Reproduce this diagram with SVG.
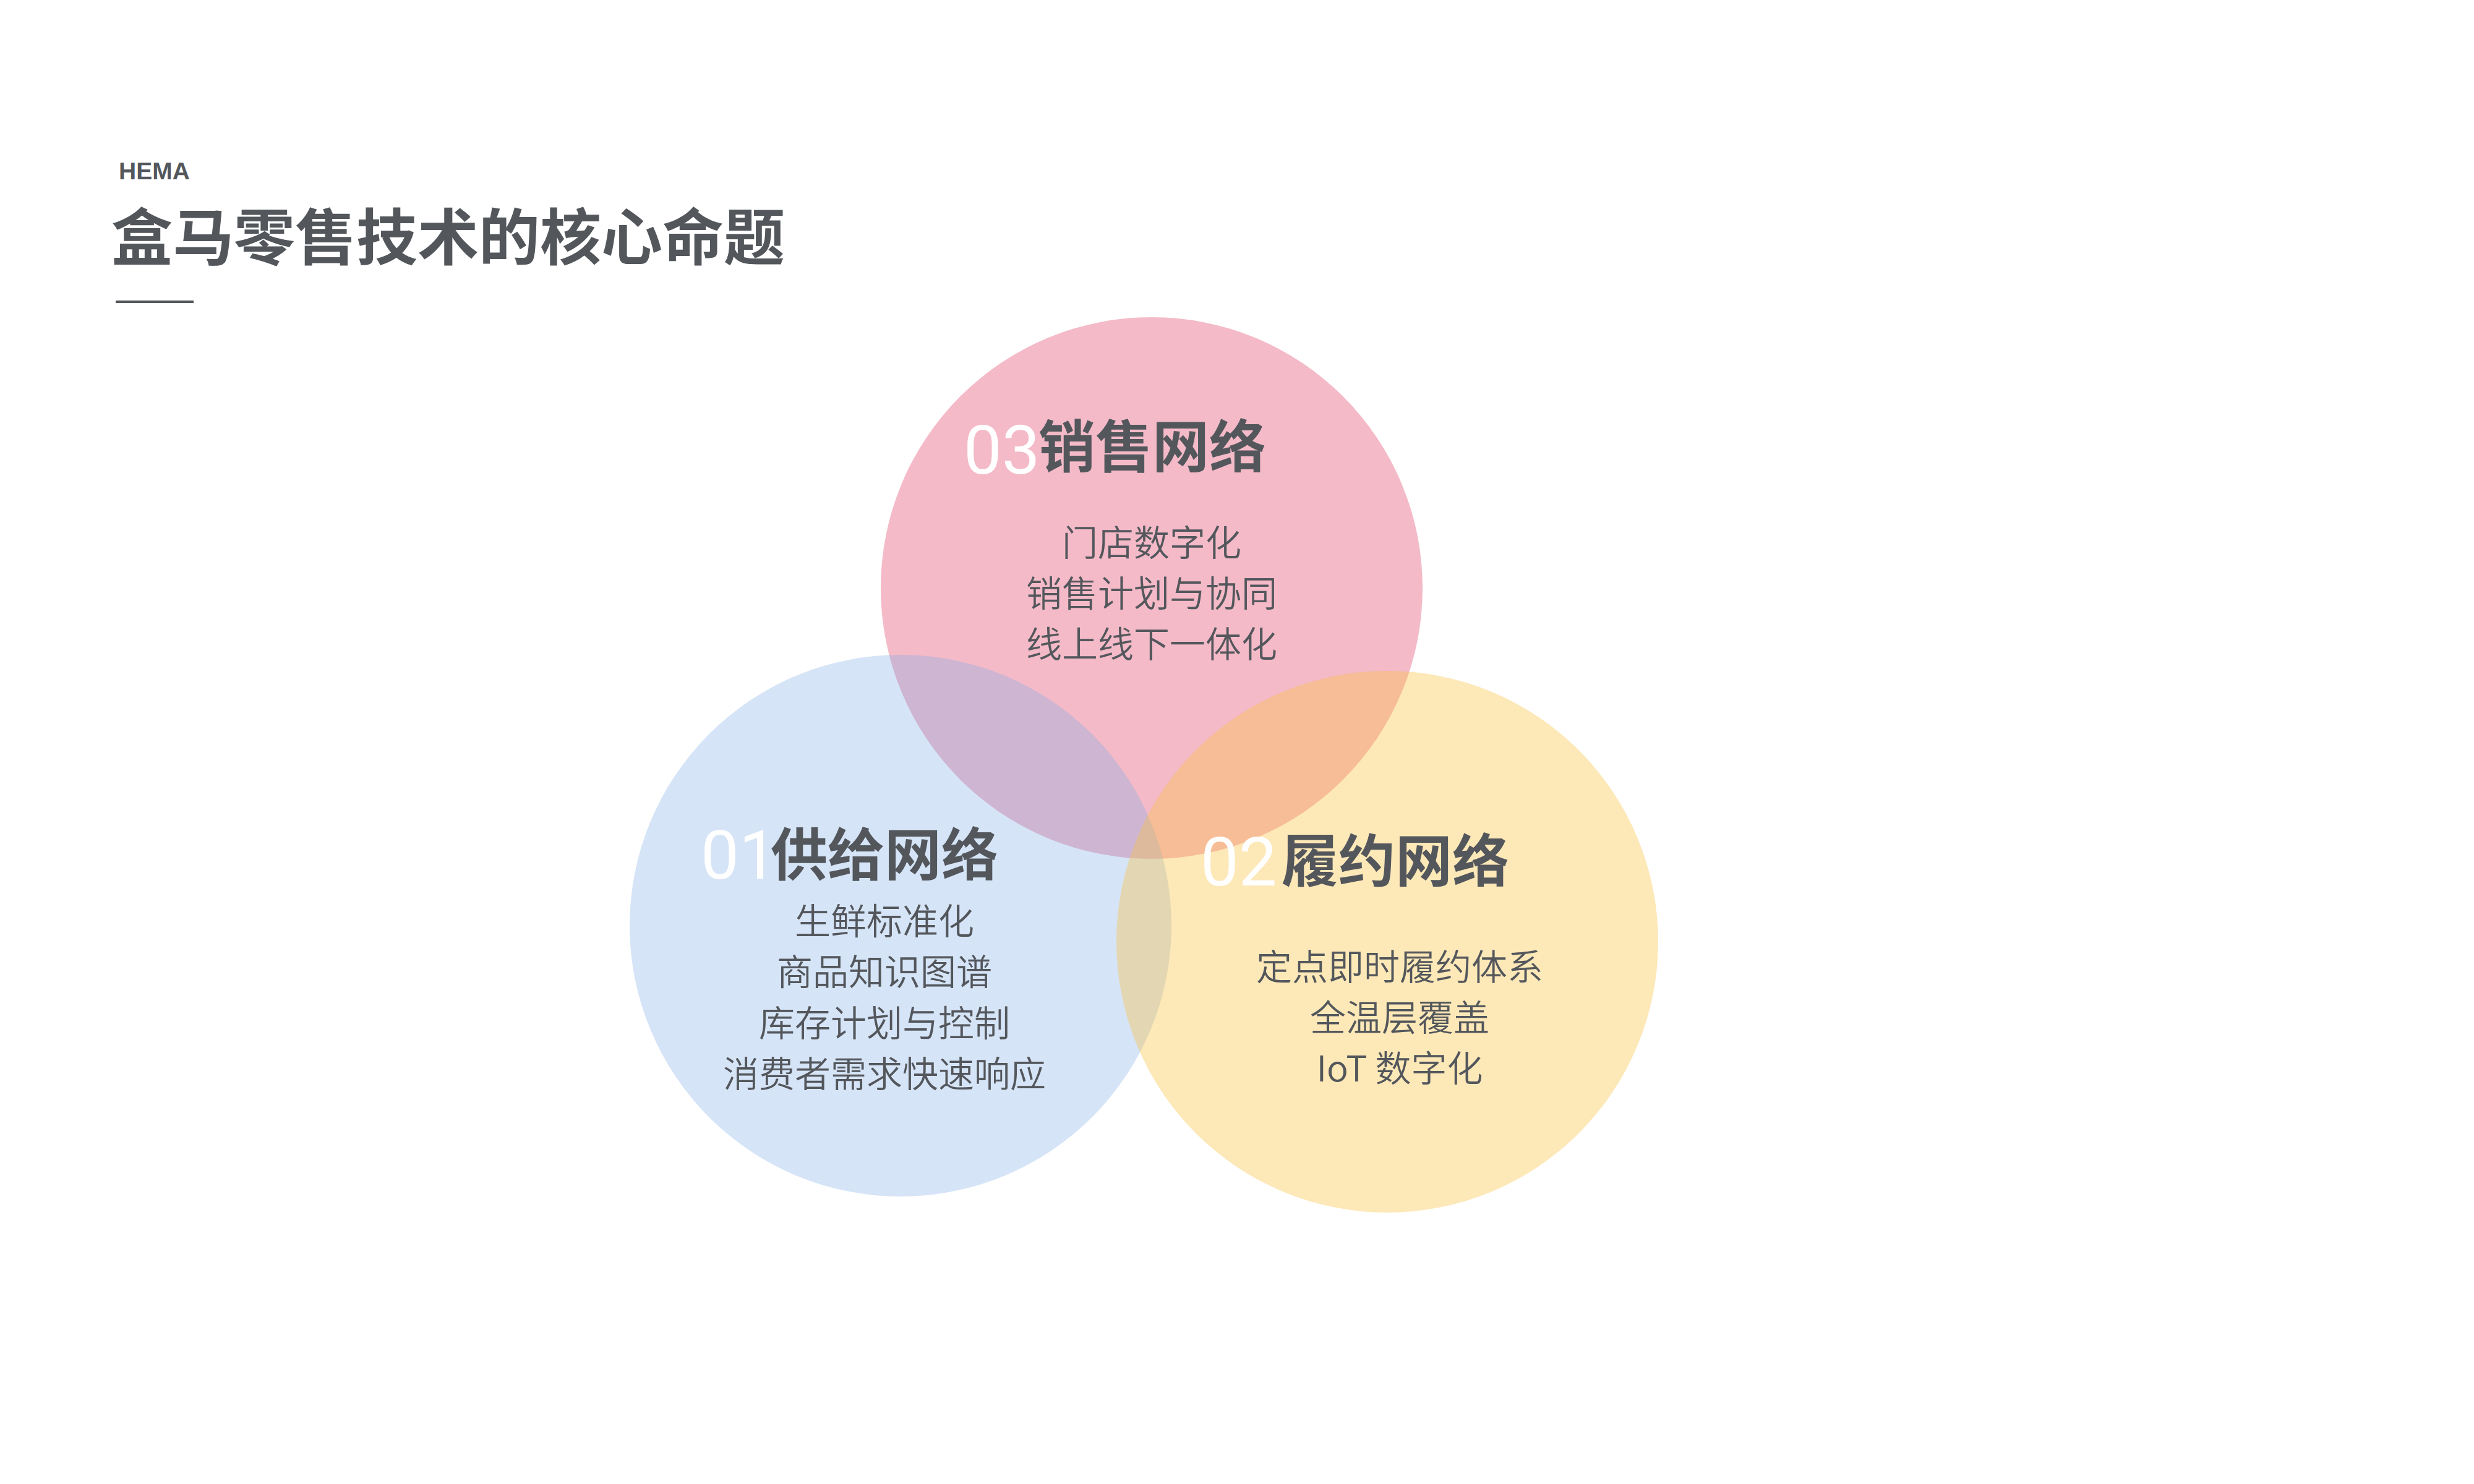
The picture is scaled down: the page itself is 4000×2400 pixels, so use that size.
<svg xmlns="http://www.w3.org/2000/svg" width="4000" height="2400" viewBox="0 0 4000 2400">
<style>
.t{font-family:"Noto Sans CJK SC","Liberation Sans",sans-serif;fill:#53575c}
.head{font-size:92px;font-weight:700}
.num{font-family:Roboto,"Open Sans","Liberation Sans",sans-serif;font-weight:400;font-size:110px;fill:#ffffff}
.body{font-size:58px;font-weight:350;text-anchor:middle}
</style>
<rect x="0" y="0" width="4000" height="2400" fill="#ffffff"/>
<g id="header">
<text x="192" y="290" font-family="Liberation Sans, Arial, sans-serif" font-weight="700" font-size="39" fill="#53575c">HEMA</text>
<text class="t" x="180" y="420" style="font-size:99px;font-weight:700">盒马零售技术的核心命题</text>
<rect x="187" y="486" width="126" height="4" fill="#53575c"/>
</g>
<g id="connectors"></g>
<g id="node-sales">
<circle cx="1862" cy="951" r="438" fill="#f4bac8"/>
</g>
<g id="node-supply">
<circle cx="1456" cy="1497" r="438" fill="#82ade6" fill-opacity="0.33"/>
</g>
<g id="node-fulfil">
<circle cx="2243" cy="1523" r="438" fill="#fac344" fill-opacity="0.38"/>
</g>
<g id="label-sales">
<text class="num" x="1558" y="766">03</text>
<text class="t head" x="1679" y="756">销售网络</text>
<text class="t body" x="1862" y="899">门店数字化</text>
<text class="t body" x="1862" y="981">销售计划与协同</text>
<text class="t body" x="1862" y="1063">线上线下一体化</text>
</g>
<g id="label-supply">
<text class="num" x="1133" y="1421">01</text>
<text class="t head" x="1246" y="1416">供给网络</text>
<text class="t body" x="1430" y="1511">生鲜标准化</text>
<text class="t body" x="1430" y="1593">商品知识图谱</text>
<text class="t body" x="1430" y="1676">库存计划与控制</text>
<text class="t body" x="1430" y="1758">消费者需求快速响应</text>
</g>
<g id="label-fulfil">
<text class="num" x="1941" y="1432">02</text>
<text class="t head" x="2072" y="1426">履约网络</text>
<text class="t body" x="2263" y="1585">定点即时履约体系</text>
<text class="t body" x="2263" y="1667">全温层覆盖</text>
<text class="t body" x="2263" y="1749">IoT 数字化</text>
</g>
</svg>
